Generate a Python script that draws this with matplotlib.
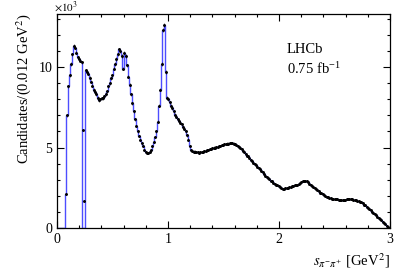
import numpy as np
import matplotlib
matplotlib.use("Agg")
import matplotlib.pyplot as plt
from matplotlib.ticker import MultipleLocator

# candidates per 0.012 GeV^2 bin, in units of 10^3, bins from 0 to 3 GeV^2
bin_width = 0.012
counts = [
    0, 0, 0, 0, 0, 0, 2.1, 7.0, 8.8, 9.5,
    10.2, 10.8, 11.3, 11.2, 10.9, 10.6, 10.5, 10.4, 10.3, 6.1,
    1.7, 9.8, 9.7, 9.6, 9.35, 9.1, 8.85, 8.6, 8.45, 8.3,
    8.1, 7.95, 8.0, 8.05, 8.05, 8.2, 8.3, 8.5, 8.8, 9.0,
    9.3, 9.5, 9.9, 10.2, 10.5, 10.8, 11.1, 11.0, 10.7, 9.9,
    10.9, 10.7, 10.1, 9.4, 8.9, 8.3, 7.75, 7.25, 6.75, 6.35,
    6.0, 5.7, 5.45, 5.3, 5.1, 4.85, 4.7, 4.65, 4.65, 4.7,
    4.85, 5.1, 5.35, 5.65, 6.0, 6.6, 7.6, 8.6, 10.2, 12.3,
    12.6, 9.7, 8.1, 8.0, 7.8, 7.6, 7.45, 7.25, 7.05, 6.9,
    6.75, 6.65, 6.55, 6.45, 6.3, 6.15, 6.0, 5.75, 5.5, 5.1,
    4.85, 4.8, 4.75, 4.75, 4.7, 4.7, 4.65, 4.7, 4.7, 4.75,
    4.8, 4.8, 4.85, 4.85, 4.9, 4.9, 4.95, 5.0, 5.0, 5.05,
    5.05, 5.1, 5.1, 5.15, 5.15, 5.2, 5.2, 5.25, 5.25, 5.3,
    5.3, 5.3, 5.25, 5.2, 5.15, 5.1, 5.05, 5.0, 4.9, 4.8,
    4.7, 4.6, 4.5, 4.45, 4.35, 4.25, 4.15, 4.05, 3.95, 3.9,
    3.8, 3.7, 3.65, 3.55, 3.45, 3.35, 3.25, 3.2, 3.1, 3.05,
    2.95, 2.9, 2.8, 2.75, 2.7, 2.65, 2.6, 2.55, 2.5, 2.45,
    2.45, 2.5, 2.5, 2.5, 2.55, 2.55, 2.6, 2.6, 2.65, 2.7,
    2.7, 2.75, 2.8, 2.85, 2.9, 2.95, 2.95, 2.9, 2.85, 2.75,
    2.7, 2.6, 2.55, 2.5, 2.4, 2.35, 2.3, 2.2, 2.15, 2.1,
    2.05, 2.0, 1.95, 1.9, 1.85, 1.85, 1.8, 1.8, 1.8, 1.8,
    1.8, 1.75, 1.75, 1.75, 1.75, 1.75, 1.75, 1.8, 1.8, 1.8,
    1.8, 1.8, 1.75, 1.75, 1.75, 1.7, 1.65, 1.6, 1.6, 1.55,
    1.45, 1.4, 1.3, 1.25, 1.15, 1.1, 1.0, 0.95, 0.85, 0.8,
    0.7, 0.65, 0.55, 0.5, 0.4, 0.3, 0.25, 0.15, 0.05, 0.0,
]
# K0S veto bins, where the fit is set to zero
veto_bins = [19, 20]

counts = np.array(counts)
edges = np.arange(len(counts) + 1) * bin_width
centres = edges[:-1] + bin_width / 2
fit = counts.copy()
fit[veto_bins] = 0

plt.rcParams['font.family'] = ['Liberation Serif', 'DejaVu Serif']
plt.rcParams['mathtext.fontset'] = 'stix'

fig = plt.figure(figsize=(4.11, 2.72), dpi=100)
ax = fig.add_axes([0.1387, 0.1618, 0.8103, 0.7867])

ax.stairs(fit, edges, color='#4d4dff', lw=1.0)
mask = counts > 0
err = np.sqrt(counts[mask] * 1000) / 1000
ax.errorbar(centres[mask], counts[mask], yerr=err, fmt='o', ms=1.1,
            color='black', elinewidth=0.4, capsize=0)

ax.set_xlim(0, 3)
ax.set_ylim(0, 13.3)
ax.xaxis.set_major_locator(MultipleLocator(1))
ax.xaxis.set_minor_locator(MultipleLocator(0.2))
ax.yaxis.set_major_locator(MultipleLocator(5))
ax.yaxis.set_minor_locator(MultipleLocator(1))
ax.tick_params(which='both', direction='in', top=True, right=True,
               labelsize=10, width=0.8)
ax.tick_params(which='major', length=5)
ax.tick_params(which='minor', length=2.5)
for s in ax.spines.values():
    s.set_linewidth(0.9)

ax.set_xlabel(r'$s_{\pi^{-}\pi^{+}}$ [GeV$^{2}$]', loc='right', fontsize=10.5)
ax.set_ylabel(r'Candidates/(0.012 GeV$^{2}$)', loc='top', fontsize=10.5)
ax.text(-0.01, 1.0, r'$\times10^{3}$', transform=ax.transAxes, fontsize=8,
        ha='left', va='bottom')
ax.text(0.69, 0.82, 'LHCb', transform=ax.transAxes, fontsize=10.5)
ax.text(0.69, 0.72, r'0.75 fb$^{\mathregular{-1}}$', transform=ax.transAxes,
        fontsize=10.5)

fig.savefig('out.png', dpi=100)
